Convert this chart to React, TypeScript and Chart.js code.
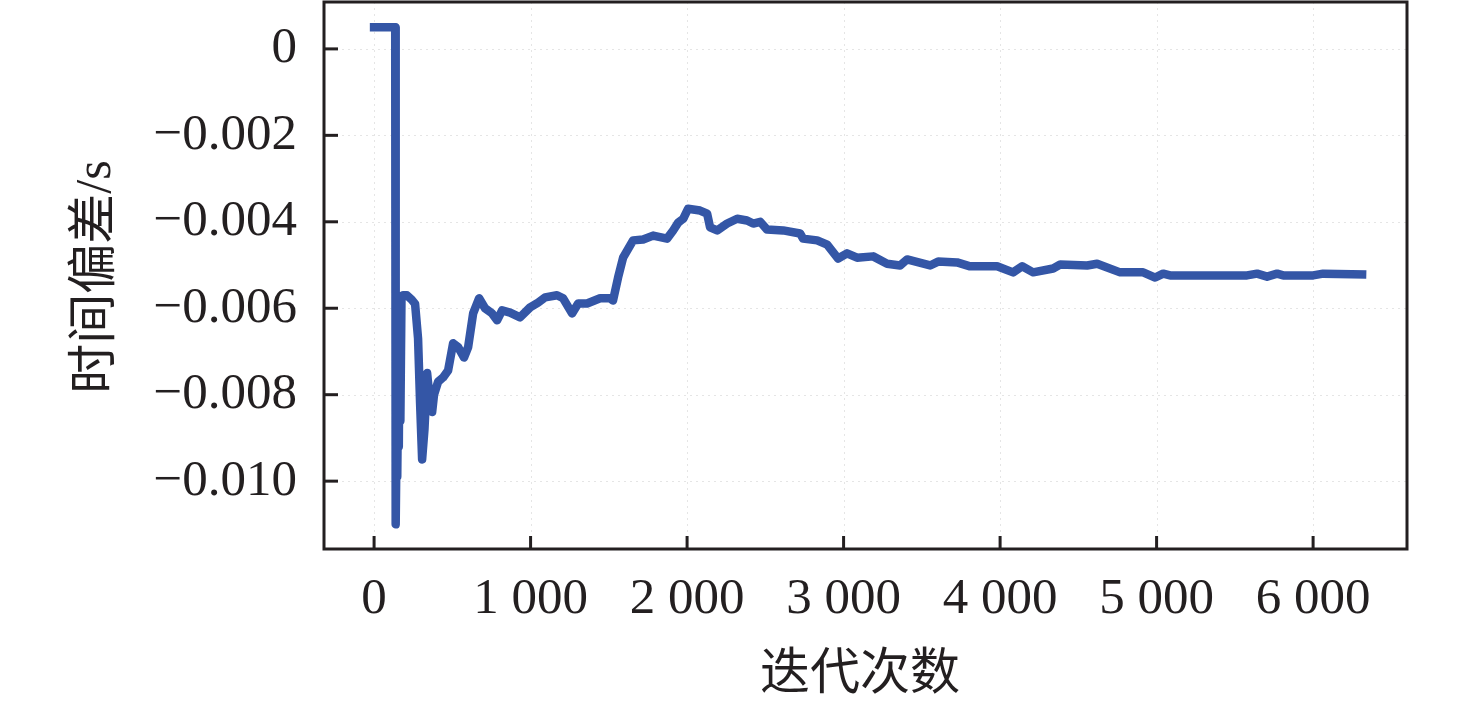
import React, { useEffect, useRef } from "react";
import { Chart, registerables } from "chart.js";

Chart.register(...registerables);

// Iteration count (x) and time deviation in seconds (y)
const iterations = [
  0, 135, 138, 143, 148, 153, 158, 163, 168, 175, 185, 210, 240, 262, 281, 294, 307, 322, 339, 355,
  371, 383, 409, 441, 473, 505, 537, 575, 601, 633, 671, 709, 754, 786, 818, 869, 933, 997, 1048, 1093,
  1169, 1208, 1265, 1304, 1361, 1444, 1508, 1527, 1559, 1591, 1655, 1719, 1783, 1872, 1911, 1943, 1975, 2006, 2083, 2128,
  2147, 2192, 2256, 2320, 2383, 2422, 2467, 2511, 2614, 2722, 2741, 2831, 2895, 2965, 3022, 3086, 3189, 3278, 3361, 3406,
  3553, 3604, 3725, 3808, 3981, 4083, 4141, 4211, 4339, 4384, 4556, 4620, 4767, 4914, 4991, 5042, 5086, 5578, 5642, 5706,
  5770, 5809, 6000, 6064, 6313,
];

const deviation = [
  0.0005, 0.0005, -0.011, -0.0093, -0.0099, -0.008, -0.0092, -0.0063, -0.0086, -0.0058, -0.0057, -0.0057, -0.0058, -0.0059, -0.0067, -0.0082, -0.0095, -0.0088, -0.0075, -0.0081,
  -0.0084, -0.008, -0.0077, -0.0076, -0.00744, -0.00681, -0.0069, -0.00714, -0.0069, -0.00612, -0.00577, -0.006, -0.00612, -0.00628, -0.00605, -0.0061, -0.00621, -0.00598, -0.00587, -0.00575,
  -0.0057, -0.00577, -0.00612, -0.00589, -0.00589, -0.00577, -0.00577, -0.00582, -0.00529, -0.00483, -0.00443, -0.00441, -0.00432, -0.00439, -0.0042, -0.00402, -0.00393, -0.0037, -0.00374, -0.00381,
  -0.00413, -0.0042, -0.00404, -0.00393, -0.00397, -0.00404, -0.004, -0.00418, -0.0042, -0.00427, -0.00439, -0.00443, -0.00453, -0.00485, -0.00473, -0.00483, -0.0048, -0.00497, -0.00501, -0.00487,
  -0.00501, -0.00492, -0.00494, -0.00503, -0.00503, -0.00517, -0.00503, -0.00517, -0.00508, -0.00499, -0.00501, -0.00497, -0.00517, -0.00517, -0.00529, -0.0052, -0.00524, -0.00524, -0.0052, -0.00527,
  -0.0052, -0.00524, -0.00524, -0.0052, -0.00522,
];

const xTicks = [0, 1000, 2000, 3000, 4000, 5000, 6000];
const yTicks = [0, -0.002, -0.004, -0.006, -0.008, -0.01];

const xTitle = "迭代次数";
const yTitle = "时间偏差/s";

const INK = "#231f20";
const LINE = "rgb(52,86,166)";
const SERIF = '"Liberation Serif", "Times New Roman", serif';
const CJK = '"Liberation Serif", "Noto Sans CJK SC", serif';

const fmtX = (v: number) => (v === 0 ? "0" : `${v / 1000} 000`);
const fmtY = (v: number) => (v === 0 ? "0" : "\u2212" + Math.abs(v).toFixed(3));

const framePlugin = {
  id: "frame",
  beforeDatasetsDraw(chart: any) {
    const { ctx, chartArea: a, scales } = chart;
    ctx.save();
    ctx.strokeStyle = "rgba(0,0,0,0.10)";
    ctx.lineWidth = 1;
    ctx.setLineDash([2, 4]);
    for (const v of yTicks) {
      const y = Math.round(scales.y.getPixelForValue(v)) + 0.5;
      ctx.beginPath();
      ctx.moveTo(a.left, y);
      ctx.lineTo(a.right, y);
      ctx.stroke();
    }
    for (const v of xTicks) {
      const x = Math.round(scales.x.getPixelForValue(v)) + 0.5;
      ctx.beginPath();
      ctx.moveTo(x, a.top);
      ctx.lineTo(x, a.bottom);
      ctx.stroke();
    }
    ctx.restore();
  },
  afterDraw(chart: any) {
    const { ctx, chartArea: a, scales } = chart;
    ctx.save();
    ctx.strokeStyle = INK;
    ctx.lineWidth = 3;
    ctx.setLineDash([]);
    ctx.strokeRect(a.left, a.top, a.right - a.left, a.bottom - a.top);
    for (const v of yTicks) {
      const y = scales.y.getPixelForValue(v);
      ctx.beginPath();
      ctx.moveTo(a.left, y);
      ctx.lineTo(a.left + 14, y);
      ctx.stroke();
    }
    for (const v of xTicks) {
      const x = scales.x.getPixelForValue(v);
      ctx.beginPath();
      ctx.moveTo(x, a.bottom);
      ctx.lineTo(x, a.bottom - 13);
      ctx.stroke();
    }
    ctx.fillStyle = INK;
    ctx.textAlign = "center";
    ctx.textBaseline = "middle";
    ctx.font = `50px ${CJK}`;
    ctx.fillText(xTitle, 860, 676);
    ctx.translate(97, 277);
    ctx.rotate(-Math.PI / 2);
    ctx.fillText(yTitle, 0, 0);
    ctx.restore();
  },
};

export default function App() {
  const ref = useRef<HTMLCanvasElement | null>(null);
  useEffect(() => {
    if (!ref.current) return;
    const points = iterations.map((x, i) => ({ x, y: deviation[i] }));
    const chart = new Chart(ref.current, {
      type: "line",
      data: {
        datasets: [
          {
            data: points,
            borderColor: LINE,
            borderWidth: 8.5,
            pointRadius: 0,
            tension: 0,
            borderJoinStyle: "round",
            borderCapStyle: "square",
            fill: false,
          },
        ],
      },
      options: {
        animation: false,
        responsive: false,
        events: [],
        layout: { padding: { top: 2, right: 69, left: 0, bottom: 0 } },
        plugins: { legend: { display: false }, tooltip: { enabled: false } },
        scales: {
          x: {
            type: "linear",
            min: -320,
            max: 6600,
            grid: { display: false, drawTicks: false },
            border: { display: false },
            afterBuildTicks: (s: any) => {
              s.ticks = xTicks.map((value) => ({ value }));
            },
            afterFit: (s: any) => {
              s.height = 158;
              s.paddingLeft = 0;
              s.paddingRight = 0;
            },
            ticks: {
              autoSkip: false,
              maxRotation: 0,
              padding: 20,
              color: INK,
              font: { family: SERIF, size: 51 },
              callback: (v: any) => fmtX(Number(v)),
            },
          },
          y: {
            type: "linear",
            min: -0.01157,
            max: 0.001085,
            grid: { display: false, drawTicks: false },
            border: { display: false },
            afterBuildTicks: (s: any) => {
              s.ticks = yTicks.map((value) => ({ value }));
            },
            afterFit: (s: any) => {
              s.width = 324;
              s.paddingTop = 0;
              s.paddingBottom = 0;
            },
            ticks: {
              autoSkip: false,
              padding: 27,
              color: INK,
              font: { family: SERIF, size: 51 },
              callback: (v: any) => fmtY(Number(v)),
            },
          },
        },
      },
      plugins: [framePlugin],
    });
    return () => chart.destroy();
  }, []);
  return (
    <div style={{ position: "absolute", left: 0, top: 0, width: 1476, height: 707, background: "#fff" }}>
      <canvas ref={ref} width={1476} height={707} style={{ display: "block" }} />
    </div>
  );
}
